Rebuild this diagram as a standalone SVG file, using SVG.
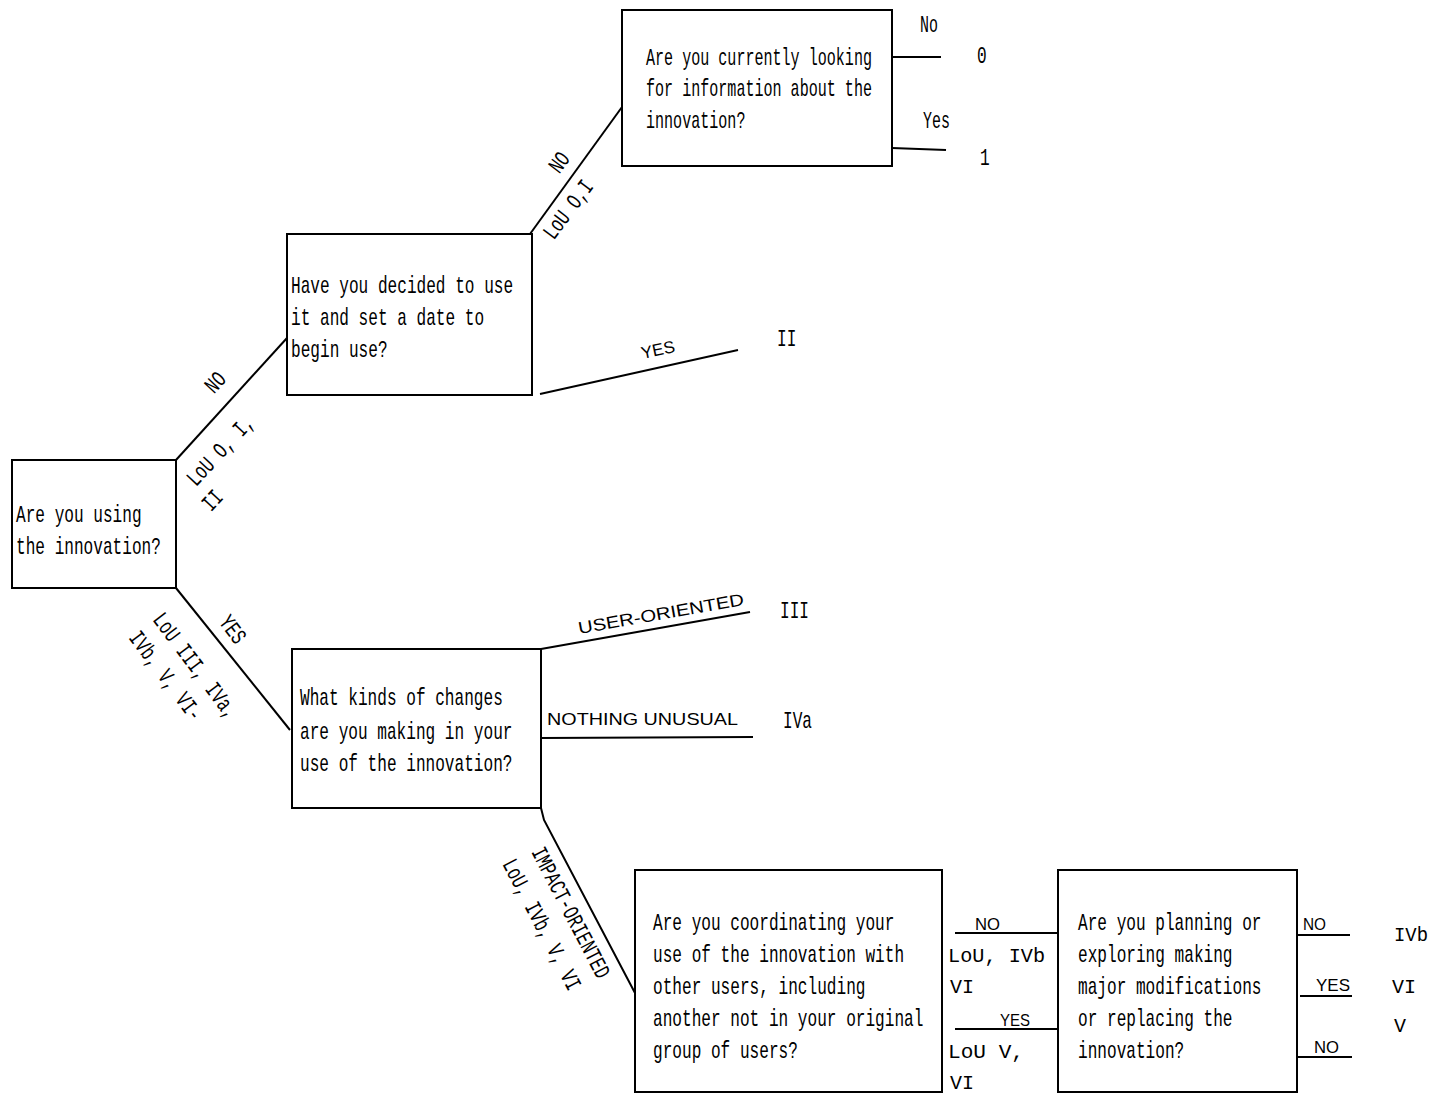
<svg xmlns="http://www.w3.org/2000/svg" width="1433" height="1094" viewBox="0 0 1433 1094">
<style>
.box{fill:#fff;stroke:#000;stroke-width:2}
.ln{fill:none;stroke:#000;stroke-width:2}
.m{font-family:"Liberation Mono","DejaVu Sans Mono",monospace;font-size:23px;fill:#000}
.s{font-family:"Liberation Sans","DejaVu Sans",sans-serif;font-size:17px;fill:#000}
.r{font-family:"Liberation Mono","DejaVu Sans Mono",monospace;font-size:20px;fill:#000}
.c{text-anchor:middle;dominant-baseline:central}
.st{dominant-baseline:central}
</style>
<rect x="0" y="0" width="1433" height="1094" fill="#fff"/>
<g id="connectors">
<polyline class="ln" points="176,460 287,338"/>
<polyline class="ln" points="530,234 622,107"/>
<polyline class="ln" points="892,57 941,57"/>
<polyline class="ln" points="892,148 946,150"/>
<polyline class="ln" points="540,394 738,350"/>
<polyline class="ln" points="176,588 290,730"/>
<polyline class="ln" points="541,649 750,612"/>
<polyline class="ln" points="541,738 753,737"/>
<polyline class="ln" points="541,808 544,820 635,993"/>
<polyline class="ln" points="955,933 1057,933"/>
<polyline class="ln" points="955,1029 1057,1029"/>
<polyline class="ln" points="1297,935 1350,935"/>
<polyline class="ln" points="1300,996 1352,996"/>
<polyline class="ln" points="1297,1057 1352,1057"/>
</g>
<g id="labels">
<text class="m c" transform="translate(216,383) rotate(-47) scale(0.7 1)">NO</text>
<text class="m c" transform="translate(221,451) rotate(-47) scale(0.7 1)">LoU O, I,</text>
<text class="m c" transform="translate(213,501) rotate(-47) scale(0.7 1)">II</text>
<text class="m c" transform="translate(560,163) rotate(-53) scale(0.7 1)">NO</text>
<text class="m c" transform="translate(569,210) rotate(-53) scale(0.7 1)">LoU O,I</text>
<text class="m" transform="translate(920,32) scale(0.65 1)">No</text>
<text class="m" transform="translate(977,63) scale(0.7 1)">0</text>
<text class="m" transform="translate(923,128) scale(0.65 1)">Yes</text>
<text class="m" transform="translate(980,165) scale(0.7 1)">1</text>
<text class="s c" transform="translate(658,350) rotate(-12)">YES</text>
<text class="m" transform="translate(777,346) scale(0.7 1)">II</text>
<text class="m c" transform="translate(232,630) rotate(53) scale(0.7 1)">YES</text>
<text class="m st" transform="translate(157,616) rotate(53) scale(0.7 1)">LoU III, IVa,</text>
<text class="m st" transform="translate(133,634) rotate(53) scale(0.7 1)">IVb, V, VI-</text>
<text class="s c" transform="translate(661,614) rotate(-10)" textLength="168" lengthAdjust="spacingAndGlyphs">USER-ORIENTED</text>
<text class="m" transform="translate(780,618) scale(0.7 1)">III</text>
<text class="s" x="547" y="725" textLength="191" lengthAdjust="spacingAndGlyphs">NOTHING UNUSUAL</text>
<text class="m" transform="translate(783,728) scale(0.7 1)">IVa</text>
<text class="m c" transform="translate(570,913) rotate(62.5) scale(0.7 1)">IMPACT-ORIENTED</text>
<text class="m c" transform="translate(541,925) rotate(62.5) scale(0.7 1)">LoU, IVb, V, VI</text>
<text class="s" x="975" y="930" textLength="25" lengthAdjust="spacingAndGlyphs">NO</text>
<text class="r" x="948" y="962" textLength="97" lengthAdjust="spacingAndGlyphs">LoU, IVb</text>
<text class="r" x="950" y="993">VI</text>
<text class="s" x="1000" y="1026" textLength="30" lengthAdjust="spacingAndGlyphs">YES</text>
<text class="r" x="948" y="1058" textLength="76" lengthAdjust="spacingAndGlyphs">LoU V,</text>
<text class="r" x="950" y="1089">VI</text>
<text class="s" x="1303" y="930" textLength="23" lengthAdjust="spacingAndGlyphs">NO</text>
<text class="s" x="1316" y="991" textLength="34" lengthAdjust="spacingAndGlyphs">YES</text>
<text class="s" x="1314" y="1053" textLength="25" lengthAdjust="spacingAndGlyphs">NO</text>
<text class="r" x="1394" y="941" textLength="34" lengthAdjust="spacingAndGlyphs">IVb</text>
<text class="r" x="1392" y="993">VI</text>
<text class="r" x="1394" y="1032">V</text>
</g>
<g id="node-using">
<rect class="box" x="12" y="460" width="164" height="128"/>
<text class="m" transform="translate(16,522) scale(0.7 1)">Are you using</text>
<text class="m" transform="translate(16,554) scale(0.7 1)">the innovation?</text>
</g>
<g id="node-decided">
<rect class="box" x="287" y="234" width="245" height="161"/>
<text class="m" transform="translate(291,293) scale(0.7 1)">Have you decided to use</text>
<text class="m" transform="translate(291,325) scale(0.7 1)">it and set a date to</text>
<text class="m" transform="translate(291,357) scale(0.7 1)">begin use?</text>
</g>
<g id="node-looking">
<rect class="box" x="622" y="10" width="270" height="156"/>
<text class="m" transform="translate(646,65) scale(0.655 1)">Are you currently looking</text>
<text class="m" transform="translate(646,96) scale(0.655 1)">for information about the</text>
<text class="m" transform="translate(646,128) scale(0.655 1)">innovation?</text>
</g>
<g id="node-changes">
<rect class="box" x="292" y="649" width="249" height="159"/>
<text class="m" transform="translate(300,705) scale(0.7 1)">What kinds of changes</text>
<text class="m" transform="translate(300,739) scale(0.7 1)">are you making in your</text>
<text class="m" transform="translate(300,771) scale(0.7 1)">use of the innovation?</text>
</g>
<g id="node-coordinating">
<rect class="box" x="635" y="870" width="307" height="222"/>
<text class="m" transform="translate(653,930) scale(0.7 1)">Are you coordinating your</text>
<text class="m" transform="translate(653,962) scale(0.7 1)">use of the innovation with</text>
<text class="m" transform="translate(653,994) scale(0.7 1)">other users, including</text>
<text class="m" transform="translate(653,1026) scale(0.7 1)">another not in your original</text>
<text class="m" transform="translate(653,1058) scale(0.7 1)">group of users?</text>
</g>
<g id="node-planning">
<rect class="box" x="1058" y="870" width="239" height="222"/>
<text class="m" transform="translate(1078,930) scale(0.7 1)">Are you planning or</text>
<text class="m" transform="translate(1078,962) scale(0.7 1)">exploring making</text>
<text class="m" transform="translate(1078,994) scale(0.7 1)">major modifications</text>
<text class="m" transform="translate(1078,1026) scale(0.7 1)">or replacing the</text>
<text class="m" transform="translate(1078,1058) scale(0.7 1)">innovation?</text>
</g>
</svg>
